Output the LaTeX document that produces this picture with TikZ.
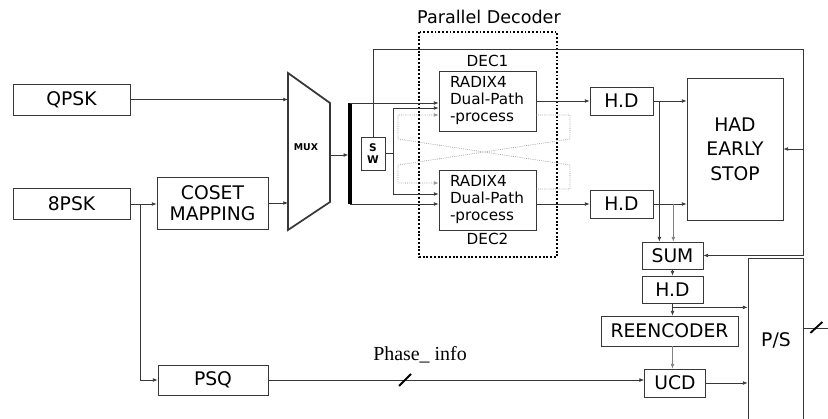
\documentclass[tikz,border=0pt]{standalone}
\usepackage{fontspec}
\setmainfont{DejaVu Sans}
\newfontfamily\phasefont{Liberation Serif}
\usepackage{tikz}
\usetikzlibrary{positioning, arrows.meta, calc}
\definecolor{lineg}{RGB}{55,55,55}
\definecolor{dotg}{RGB}{150,150,150}

\begin{document}
\begin{tikzpicture}[x=0.03cm, y=-0.03cm,
  box/.style={rectangle, draw=lineg, line width=0.6pt, inner sep=2pt, align=center, font=\fontsize{16}{19}\selectfont},
  decbox/.style={box, align=left, text width=2.25cm, inner xsep=0.33cm, minimum width=2.91cm, minimum height=1.8cm, font=\fontsize{13}{14.5}\selectfont},
  arr/.style={-{Latex[length=1.4mm,width=1.1mm]}, draw=lineg, line width=0.6pt},
  wire/.style={draw=lineg, line width=0.6pt},
  cross/.style={-{Latex[length=1.4mm,width=1.1mm]}, draw=dotg, densely dotted, line width=0.6pt},
  slash/.style={line width=1.6pt, black}]

\useasboundingbox (0,0) rectangle (828,419);
\clip (0,0) rectangle (828,419);

% Sources
\node[box, minimum width=3.51cm, minimum height=0.93cm] (qpsk) at (71.5,99.5) {QPSK};
\node[box, minimum width=3.51cm, minimum height=0.93cm] (psk8) at (71.5,204) {8PSK};
\node[box, minimum width=3.33cm, minimum height=1.56cm, font=\fontsize{16}{18}\selectfont] (coset) at (212.5,203) {COSET\\MAPPING};
\node[box, minimum width=3.3cm, minimum height=0.9cm] (psq) at (213,380) {PSQ};

% MUX and bus
\draw[lineg, line width=1.5pt] (288,73) -- (330,103) -- (330,202) -- (288,230) -- cycle;
\node[font=\bfseries\fontsize{8}{9}\selectfont] (mux) at (306,147) {MUX};
\coordinate (muxl) at (288,150);
\coordinate (muxr) at (330,155);
\coordinate (bustop) at (350,103);
\coordinate (busbot) at (350,204);
\draw[black, line width=2.8pt] (bustop) -- (busbot);

% Parallel decoder
\draw[black, line width=1.6pt, dash pattern=on 1.6pt off 1.6pt] (419,32) rectangle (557,257);
\node[font=\fontsize{15}{18}\selectfont] (pdtitle) at (489,17) {Parallel Decoder};
\node[decbox, label={[name=dec1lbl, font=\fontsize{13}{15}\selectfont, inner sep=1pt, label distance=2pt]above:DEC1}] (dec1) at (487.5,101) {RADIX4\\Dual-Path\\-process};
\node[decbox, label={[name=dec2lbl, font=\fontsize{13}{15}\selectfont, inner sep=1pt, label distance=1pt]below:DEC2}] (dec2) at (487.5,200) {RADIX4\\Dual-Path\\-process};
\node[box, minimum width=0.72cm, minimum height=0.99cm, inner sep=1pt, font=\bfseries\fontsize{9}{10}\selectfont] (sw) at (373,153.5) {S\\W};

% Decision and stop
\node[box, minimum width=1.89cm, minimum height=0.84cm] (hd1) at (621.5,101) {H.D};
\node[box, minimum width=1.89cm, minimum height=0.84cm] (hd2) at (621.5,204) {H.D};
\node[box, minimum width=2.88cm, minimum height=4.26cm, font=\fontsize{16}{21}\selectfont] (had) at (735,149) {HAD\\EARLY\\STOP};
\node[box, minimum width=1.83cm, minimum height=0.81cm] (sum) at (672.5,255.5) {SUM};
\node[box, minimum width=1.83cm, minimum height=0.81cm] (hd3) at (672.5,289.5) {H.D};
\node[box, minimum width=4.11cm, minimum height=0.9cm] (reenc) at (669.5,331) {REENCODER};
\node[box, minimum width=1.83cm, minimum height=0.84cm] (ucd) at (675,383) {UCD};
\node[box, minimum width=1.65cm, minimum height=5.46cm] (ps) at (775.5,349) {};
\node[font=\fontsize{16}{19}\selectfont] (pslbl) at (776,340) {P/S};

% Inputs to MUX
\draw[arr] (qpsk.east) -- (qpsk.east -| muxl);
\draw[arr] (coset.east) -- (coset.east -| muxl);
\draw[arr, shorten >=1.4pt] (muxr) -- (muxr -| bustop);
\draw[arr] (bustop) -- (bustop -| dec1.west);
\draw[arr] (busbot) -- (busbot -| dec2.west);

% Switch
\coordinate (swsplit) at ($(sw.east)+(8,0)$);
\draw[wire] (sw.east) -- (swsplit);
\draw[arr] (swsplit) |- ($(dec1.west)+(0,7)$);
\draw[arr] (swsplit) |- ($(dec2.west)+(0,-6)$);
\coordinate (fbtop) at (803,49);
\draw[arr] (sw.north) |- (fbtop) |- (sum.east);
\draw[arr] (had.east -| fbtop) -- (had.east);

% Exchange between decoders
\draw[cross] ($(dec1.east)+(0,14)$) -- (570,115) -- (570,139) -- (398,165) -- (398,183) -- ($(dec2.west)+(0,-17)$);
\draw[cross] ($(dec2.east)+(0,-11)$) -- (570,189) -- (570,165) -- (398,139) -- (398,115) -- ($(dec1.west)+(0,14)$);

% Hard decisions
\draw[arr] (dec1.east) -- (hd1.west);
\draw[arr] (dec2.east |- hd2) -- (hd2.west);
\draw[arr] (hd1.east) -- (hd1.east -| had.west);
\draw[arr] (hd2.east) -- (hd2.east -| had.west);
\coordinate (br1) at ($(hd1.east)+(6,0)$);
\coordinate (br2) at ($(hd2.east)+(20,0)$);
\draw[arr] (br1) -- (br1 |- sum.north);
\draw[arr, draw=gray] (br2) -- (br2 |- sum.north);
\draw[arr] (sum.south) -- (hd3.north);
\draw[arr] (hd3.south) -- (hd3.south |- reenc.north);
\coordinate (br3) at ($(hd3.south)+(0,4)$);
\draw[arr] (br3) -- (br3 -| ps.west);
\draw[arr, draw=gray] (hd3.south |- reenc.south) -- (hd3.south |- ucd.north);

% Phase path
\draw[arr] (psk8.east) -- (psk8.east -| coset.west);
\coordinate (br0) at ($(psk8.east)+(10,0)$);
\draw[arr] (br0) |- (psq.west);
\draw[arr] (psq.east) -- (psq.east -| ucd.west);
\coordinate (phslash) at (405,0 |- psq);
\draw[slash] ($(phslash)+(-6,6)$) -- ($(phslash)+(6,-6)$);
\node[font=\phasefont\fontsize{17}{20}\selectfont] (phase) at (420,355) {Phase\_ info};
\draw[arr] (ucd.east) -- (ucd.east -| ps.west);

% Output
\coordinate (psout) at ($(ps.east)+(0,-21)$);
\draw[wire] (psout) -- ++(25,0) coordinate (psend);
\draw[slash] ($(psout)+(7,5)$) -- ($(psout)+(19,-6)$);

\end{tikzpicture}
\end{document}
